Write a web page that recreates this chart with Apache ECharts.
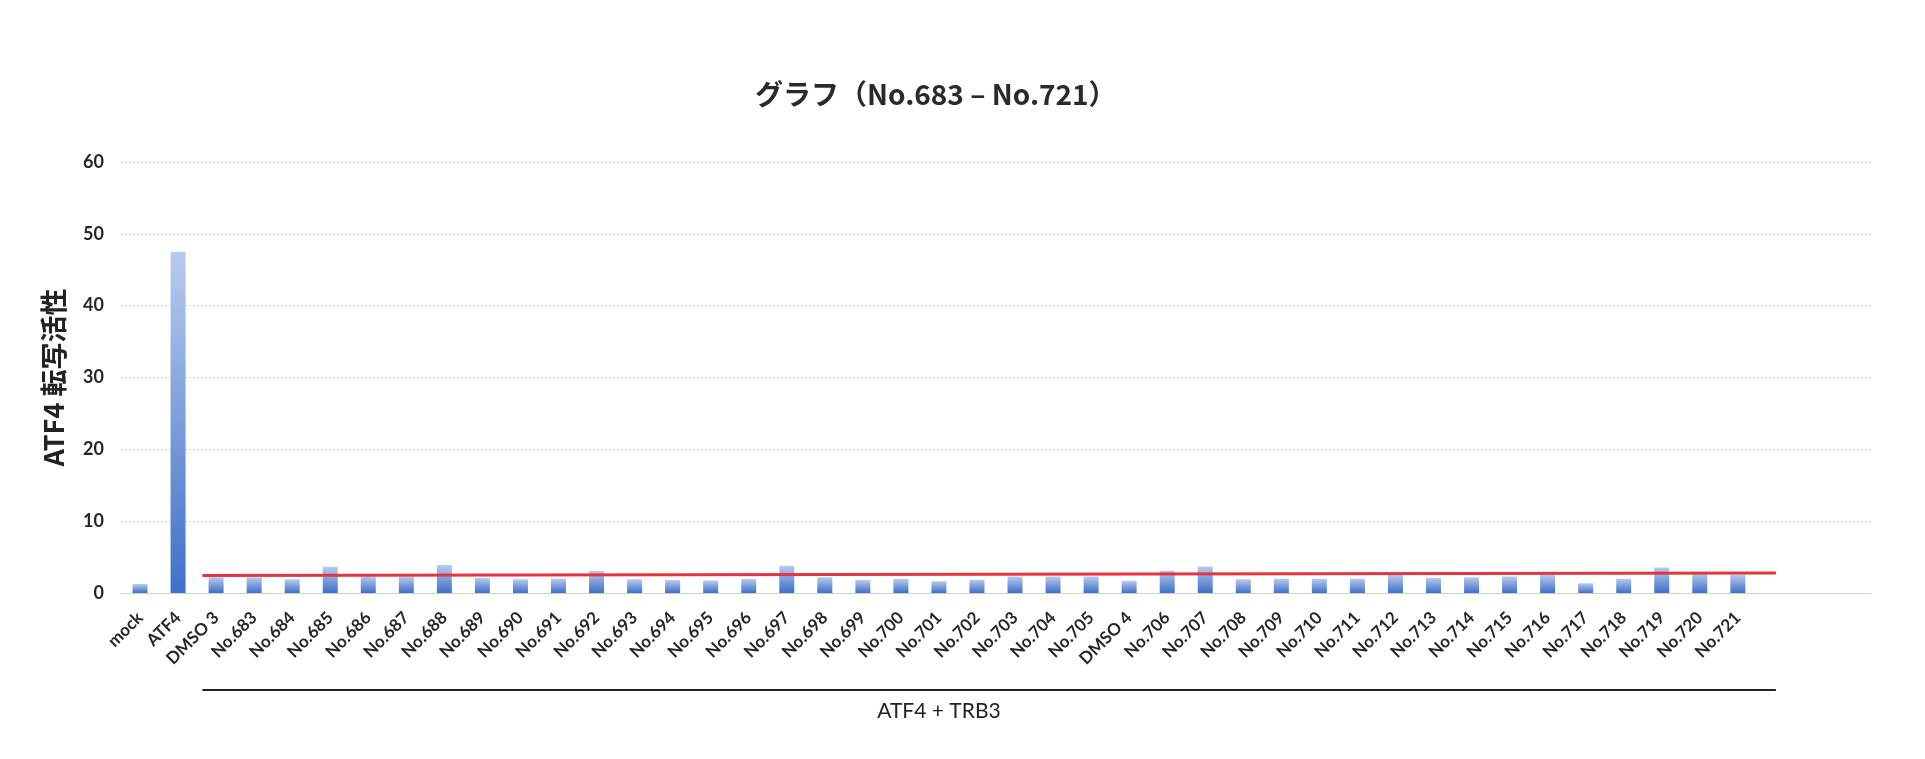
<!DOCTYPE html>
<html>
<head>
<meta charset="utf-8">
<script src="https://cdn.jsdelivr.net/npm/echarts@6/dist/echarts.min.js"></script>
<style>
  html, body { margin: 0; padding: 0; background: #ffffff; }
  #chart { width: 1925px; height: 759px; }
</style>
</head>
<body>
<div id="chart"></div>
<script>
// ---- data ----
const categories = [
  'mock', 'ATF4', 'DMSO 3',
  'No.683', 'No.684', 'No.685', 'No.686', 'No.687', 'No.688', 'No.689', 'No.690',
  'No.691', 'No.692', 'No.693', 'No.694', 'No.695', 'No.696', 'No.697', 'No.698',
  'No.699', 'No.700', 'No.701', 'No.702', 'No.703', 'No.704', 'No.705', 'DMSO 4',
  'No.706', 'No.707', 'No.708', 'No.709', 'No.710', 'No.711', 'No.712', 'No.713',
  'No.714', 'No.715', 'No.716', 'No.717', 'No.718', 'No.719', 'No.720', 'No.721',
  ' ', '  ', '   '
];
const activity = [
  1.25, 47.5, 2.2,
  2.2, 1.9, 3.65, 2.3, 2.3, 3.9, 2.1, 1.9,
  2.0, 3.05, 1.9, 1.8, 1.75, 1.95, 3.8, 2.2,
  1.8, 1.95, 1.65, 1.85, 2.3, 2.3, 2.3, 1.7,
  3.1, 3.7, 1.9, 2.0, 2.0, 2.0, 2.55, 2.1,
  2.2, 2.3, 2.55, 1.35, 2.0, 3.55, 2.8, 2.55,
  null, null, null
];
// reference (red) line: [category position, value]
const refLine = [[1.64, 2.45], [43.0, 2.8]];
// group bracket under the axis (category positions)
const groupSpan = [1.64, 43.0];
const groupLabelPos = 21.0;
const groupLabel = 'ATF4 + TRB3';
const yTicks = { min: 0, max: 60, interval: 10 };
const titleText = 'グラフ（No.683 – No.721）';
const yName = 'ATF4 転写活性';

// ---- chart ----
const chart = echarts.init(document.getElementById('chart'), null, { renderer: 'canvas' });
const grid = { left: 121, top: 162, width: 1750, height: 431 };

const option = {
  backgroundColor: '#ffffff',
  animation: false,
  title: {
    text: titleText,
    left: 750,
    top: 75,
    textStyle: {
      fontFamily: '"Noto Sans CJK JP", sans-serif',
      fontSize: 28,
      fontWeight: 'bold',
      color: '#2a2a2a'
    }
  },
  grid: grid,
  xAxis: [
    {
      type: 'category',
      data: categories,
      axisLine: { show: true, lineStyle: { color: '#cfcfcf', width: 1 } },
      axisTick: { show: false },
      axisLabel: {
        interval: 0,
        rotate: 45,
        margin: 22,
        fontFamily: 'Lato, "Liberation Sans", sans-serif',
        fontWeight: 'bold',
        fontSize: 17,
        color: '#262626'
      }
    },
    {
      type: 'value',
      min: -0.5,
      max: categories.length - 0.5,
      show: false
    }
  ],
  yAxis: {
    type: 'value',
    min: yTicks.min,
    max: yTicks.max,
    interval: yTicks.interval,
    name: yName,
    nameLocation: 'middle',
    nameRotate: 90,
    nameGap: 54,
    nameTextStyle: {
      fontFamily: '"Noto Sans CJK JP", sans-serif',
      fontSize: 27,
      fontWeight: 'bold',
      color: '#222222'
    },
    axisLine: { show: false },
    axisTick: { show: false },
    axisLabel: {
      margin: 17,
      fontFamily: 'Lato, "Liberation Sans", sans-serif',
      fontWeight: 'bold',
      fontSize: 18,
      color: '#262626'
    },
    splitLine: { show: true, lineStyle: { color: '#d2d2d2', type: [2, 2], width: 1 } }
  },
  series: [
    {
      type: 'bar',
      data: activity,
      barWidth: 15,
      itemStyle: {
        color: new echarts.graphic.LinearGradient(0, 0, 0, 1, [
          { offset: 0, color: '#b8cbee' },
          { offset: 1, color: '#3e70c8' }
        ])
      }
    },
    {
      type: 'line',
      xAxisIndex: 1,
      data: refLine,
      symbol: 'none',
      lineStyle: { color: '#e3343f', width: 3 },
      z: 5
    }
  ]
};
chart.setOption(option);

// bracket line and group label under the category labels
const x0 = chart.convertToPixel({ xAxisIndex: 1 }, groupSpan[0]);
const x1 = chart.convertToPixel({ xAxisIndex: 1 }, groupSpan[1]);
const xl = chart.convertToPixel({ xAxisIndex: 1 }, groupLabelPos);
chart.setOption({
  graphic: [
    {
      type: 'line',
      shape: { x1: x0, y1: 690, x2: x1, y2: 690 },
      style: { stroke: '#222222', lineWidth: 2 }
    },
    {
      type: 'text',
      x: xl,
      y: 711,
      style: {
        text: groupLabel,
        fontFamily: 'Lato, "Liberation Sans", sans-serif',
        fontSize: 21,
        fill: '#222222',
        align: 'center',
        verticalAlign: 'middle'
      }
    }
  ]
});
</script>
</body>
</html>
